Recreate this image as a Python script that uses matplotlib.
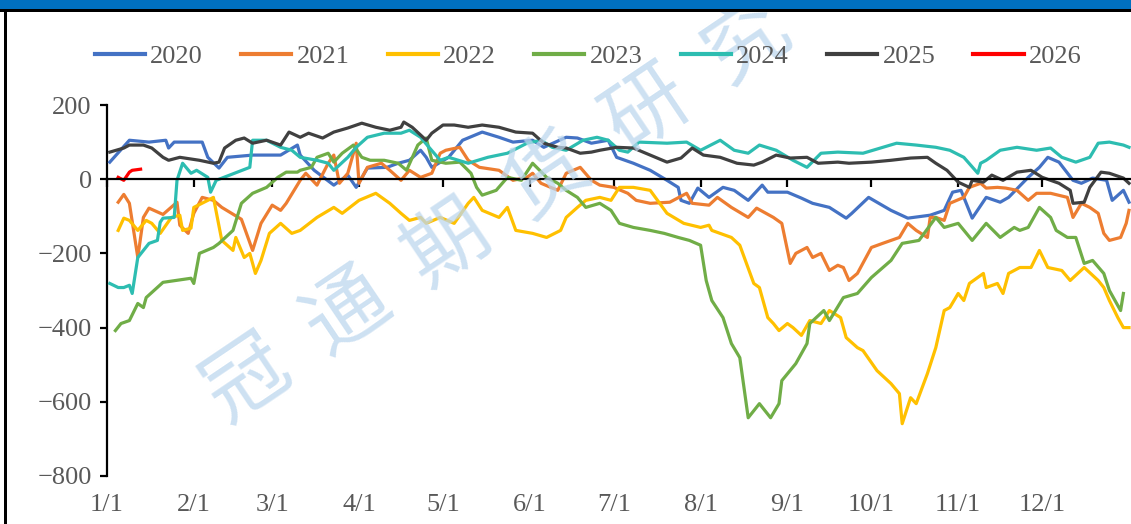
import matplotlib
matplotlib.use("Agg")
import matplotlib.pyplot as plt
from matplotlib.patches import Rectangle
from matplotlib.lines import Line2D
import matplotlib.transforms as mtransforms

# day-of-year positions and values
days_2020 = [1, 8, 15, 21, 22, 24, 34, 36, 40, 43, 52, 62, 68, 69, 74, 81, 86, 89, 93, 100,
             104, 108, 112, 114, 116, 122, 127, 134, 140, 145, 152, 156, 164, 168, 173, 179, 182, 188, 194, 200,
             204, 205, 208, 211, 215, 220, 224, 229, 234, 236, 243, 248, 252, 258, 264, 266, 272, 280, 286, 294,
             299, 302, 305, 309, 314, 319, 322, 329, 333, 336, 340, 345, 348, 352, 357, 359, 363, 365]
vals_2020 = [46, 105, 100, 105, 84, 100, 100, 59, 30, 59, 65, 65, 92, 65, 24, -16, 11, -22, 30, 32,
             43, 51, 78, 59, 32, 59, 105, 127, 113, 100, 105, 86, 113, 111, 97, 105, 59, 43, 24, -3,
             -22, -57, -65, -24, -49, -22, -30, -57, -16, -35, -35, -51, -65, -76, -105, -92, -49, -84, -105, -97,
             -84, -35, -30, -105, -49, -62, -49, 5, 32, 59, 46, -3, -11, 3, -3, -57, -30, -62]

days_2021 = [4, 6, 8, 11, 13, 15, 20, 25, 26, 29, 31, 34, 38, 41, 48, 52, 55, 59, 62, 64,
             69, 71, 75, 79, 81, 83, 86, 89, 90, 93, 98, 101, 105, 108, 112, 116, 119, 121, 126, 129,
             133, 140, 145, 150, 152, 155, 161, 164, 169, 173, 176, 181, 186, 189, 194, 201, 207, 209, 215, 218,
             223, 229, 232, 238, 241, 244, 246, 250, 252, 255, 258, 261, 263, 265, 268, 273, 277, 283, 286, 289,
             293, 294, 296, 299, 301, 306, 308, 312, 314, 318, 321, 325, 329, 332, 337, 343, 345, 348, 351, 354,
             356, 358, 362, 364, 365]
vals_2021 = [-62, -41, -65, -211, -103, -78, -95, -62, -124, -146, -92, -49, -57, -76, -108, -192, -119, -70, -84, -65,
             -3, 16, -16, 43, 65, -11, 16, 97, -11, 32, 43, 24, -3, 24, 5, 16, 70, 78, 86, 51,
             32, 24, -3, 5, 16, -11, -30, 16, 32, -3, -16, -22, -38, -57, -65, -62, -38, -65, -70, -49,
             -76, -103, -78, -103, -119, -227, -200, -184, -211, -200, -246, -232, -238, -273, -254, -184, -173, -157, -119, -138,
             -157, -103, -103, -111, -65, -49, -22, -11, -24, -22, -24, -30, -57, -38, -38, -49, -103, -65, -76, -92,
             -146, -165, -157, -119, -84]

days_2022 = [4, 6, 8, 11, 14, 16, 19, 23, 26, 27, 30, 31, 36, 38, 41, 45, 46, 49, 51, 53,
             55, 58, 62, 66, 69, 75, 81, 84, 90, 96, 101, 105, 108, 112, 114, 119, 124, 129, 131, 134,
             140, 143, 146, 152, 157, 162, 164, 168, 171, 176, 180, 183, 188, 194, 200, 206, 212, 215, 216, 223,
             226, 231, 233, 236, 238, 240, 243, 245, 248, 251, 255, 258, 262, 264, 268, 270, 275, 280, 283, 284,
             287, 289, 293, 296, 299, 301, 304, 306, 308, 313, 314, 318, 320, 322, 326, 330, 333, 336, 341, 344,
             349, 354, 356, 358, 361, 363, 365]
vals_2022 = [-138, -105, -111, -138, -111, -119, -146, -103, -97, -138, -132, -76, -57, -49, -165, -192, -157, -211, -200, -254,
             -219, -146, -119, -146, -138, -103, -76, -92, -57, -38, -65, -92, -111, -103, -119, -103, -119, -65, -49, -84,
             -103, -76, -138, -146, -157, -138, -103, -76, -57, -49, -57, -22, -22, -30, -92, -119, -130, -124, -138, -157,
             -178, -281, -292, -373, -389, -408, -389, -400, -421, -381, -389, -354, -373, -427, -454, -462, -516, -551, -578, -659,
             -589, -605, -524, -454, -354, -346, -308, -327, -281, -254, -292, -281, -308, -254, -238, -238, -192, -238, -246, -273,
             -238, -273, -292, -327, -373, -400, -400]

days_2023 = [3, 5, 8, 11, 13, 14, 20, 30, 31, 33, 38, 40, 45, 48, 52, 57, 61, 64, 68, 69,
             73, 75, 79, 81, 84, 88, 91, 94, 99, 104, 107, 111, 114, 116, 121, 126, 130, 132, 134, 139,
             143, 148, 152, 157, 161, 164, 168, 171, 176, 180, 183, 188, 194, 199, 204, 208, 212, 214, 216, 220,
             223, 226, 229, 233, 237, 240, 241, 246, 250, 251, 256, 258, 263, 268, 273, 280, 284, 290, 296, 299,
             304, 309, 314, 319, 324, 326, 329, 333, 337, 339, 343, 346, 349, 352, 356, 358, 362, 363]
vals_2023 = [-408, -389, -381, -335, -346, -319, -278, -267, -281, -200, -184, -173, -138, -65, -38, -22, 5, 19, 19, 24,
             32, 59, 70, 46, 70, 92, 59, 51, 51, 43, 24, 92, 111, 51, 43, 46, 16, -22, -43, -30,
             5, -3, 43, 5, -11, -30, -49, -76, -65, -84, -119, -130, -138, -146, -157, -165, -178, -273, -327, -373,
             -443, -481, -643, -605, -643, -605, -543, -497, -443, -389, -354, -381, -319, -308, -265, -219, -173, -165, -103, -130,
             -119, -165, -119, -157, -130, -138, -130, -76, -103, -138, -157, -157, -227, -219, -254, -300, -354, -308]

days_2024 = [1, 4, 6, 8, 9, 11, 13, 15, 18, 19, 20, 24, 25, 27, 30, 32, 36, 37, 39, 51,
             52, 57, 62, 66, 69, 75, 79, 81, 86, 89, 93, 99, 105, 108, 112, 115, 119, 122, 129, 136,
             143, 150, 155, 159, 164, 170, 175, 179, 183, 186, 190, 200, 207, 212, 219, 224, 229, 233, 239, 245,
             250, 255, 261, 270, 282, 289, 296, 301, 306, 311, 312, 314, 319, 325, 332, 337, 341, 346, 351, 354,
             358, 363, 365]
vals_2024 = [-281, -292, -292, -286, -308, -211, -192, -173, -165, -116, -105, -103, -3, 43, 16, 24, 5, -35, -3, 32,
             105, 105, 86, 78, 59, 51, 43, 24, 59, 86, 113, 124, 124, 132, 113, 86, 51, 59, 43, 59,
             70, 97, 105, 86, 78, 105, 113, 105, 78, 73, 100, 97, 100, 78, 105, 78, 70, 92, 78, 51,
             32, 70, 73, 70, 97, 92, 86, 78, 59, 16, 43, 51, 78, 86, 78, 84, 59, 46, 59, 97,
             100, 92, 86]

days_2025 = [1, 6, 8, 13, 16, 20, 22, 26, 33, 38, 40, 42, 46, 49, 52, 57, 62, 65, 69, 72,
             77, 81, 86, 91, 96, 101, 105, 106, 109, 114, 116, 120, 124, 129, 134, 140, 146, 152, 156, 161,
             164, 169, 173, 176, 182, 188, 194, 200, 205, 209, 213, 219, 225, 231, 234, 239, 244, 250, 254, 261,
             265, 273, 280, 287, 293, 296, 300, 304, 308, 309, 313, 316, 320, 325, 330, 334, 340, 344, 345, 349,
             351, 355, 358, 363, 365]
vals_2025 = [73, 84, 92, 92, 84, 59, 51, 59, 51, 43, 46, 84, 105, 111, 97, 105, 92, 127, 113, 124,
             111, 127, 138, 151, 140, 132, 140, 154, 140, 105, 124, 146, 146, 140, 146, 140, 127, 124, 97, 86,
             84, 70, 73, 78, 86, 84, 65, 46, 57, 84, 65, 59, 43, 38, 46, 65, 57, 59, 43, 46,
             43, 46, 51, 57, 59, 43, 24, -8, -22, -3, -8, 11, -3, 19, 24, 5, -11, -30, -65, -62,
             -22, 19, 16, 3, -11]

days_2026 = [4, 6, 8, 9, 12]
vals_2026 = [5, -3, 19, 24, 27]

series = [
    ("2020", days_2020, vals_2020, "#4472C4"),
    ("2021", days_2021, vals_2021, "#ED7D31"),
    ("2022", days_2022, vals_2022, "#FFC000"),
    ("2023", days_2023, vals_2023, "#70AD47"),
    ("2024", days_2024, vals_2024, "#2DBDB1"),
    ("2025", days_2025, vals_2025, "#404040"),
    ("2026", days_2026, vals_2026, "#FF0000"),
]

month_starts = [0, 31, 59, 90, 120, 151, 181, 212, 243, 273, 304, 334]
month_labels = ["1/1", "2/1", "3/1", "4/1", "5/1", "6/1", "7/1", "8/1", "9/1", "10/1", "11/1", "12/1"]
y_ticks = [200, 0, -200, -400, -600, -800]

plt.rcParams["font.family"] = ["Liberation Serif", "DejaVu Serif"]
plt.rcParams["axes.unicode_minus"] = True

W, H = 1131, 524
fig = plt.figure(figsize=(W / 100, H / 100), dpi=100)

# plot area in pixels: x 107 -> right edge, y 105 (200) -> 476 (-800)
ax = fig.add_axes([107 / W, (H - 476) / H, (W - 107) / W, (476 - 105) / H])
ax.patch.set_alpha(0)

for name, d, v, c in series:
    assert len(d) == len(v), name
    ax.plot(d, v, color=c, lw=2.3, label=name, solid_joinstyle="round", zorder=3)

ax.set_xlim(0, (W - 107) / 2.8)
ax.set_ylim(-800, 200)

for side in ["top", "right"]:
    ax.spines[side].set_visible(False)
ax.spines["left"].set_linewidth(1.6)
ax.spines["left"].set_bounds(-800, 200)
ax.spines["bottom"].set_position(("data", 0))
ax.spines["bottom"].set_linewidth(1.6)
ax.spines["bottom"].set_zorder(4)

ax.set_yticks(y_ticks)
ax.tick_params(axis="y", direction="out", length=5, width=1.6, colors="black",
               labelcolor="#595959", labelsize=19, pad=6)
ax.set_xticks(month_starts)
ax.set_xticklabels([])
ax.tick_params(axis="x", direction="out", length=6, width=1.6, colors="black")

trans = mtransforms.blended_transform_factory(ax.transData, ax.transAxes)
for m, lab in zip(month_starts, month_labels):
    ax.text(m, -0.078, lab, transform=trans, ha="center", va="center",
            fontsize=19, color="#595959")

handles = [Line2D([0], [0], color=c, lw=3) for _, _, _, c in series]
fig.legend(handles, [s[0] for s in series], loc="center", bbox_to_anchor=(0.52, 0.893),
           ncol=7, frameon=False, fontsize=19, handlelength=1.9, handletextpad=0.2,
           columnspacing=1.45, labelcolor="#595959")

# watermark
fig.text(0.44, 0.595, "冠  通  期  货  研  究", rotation=34, fontsize=60, color="#BDD7EE",
         alpha=0.75, ha="center", va="center", family=["Noto Sans CJK SC"], zorder=5)

# frame: blue band on top, black rules
fig.patches.append(Rectangle((0, 1 - 9 / H), 1, 9 / H, transform=fig.transFigure,
                             facecolor="#0070C0", edgecolor="none", zorder=10))
fig.patches.append(Rectangle((0, 1 - 12 / H), 1, 3 / H, transform=fig.transFigure,
                             facecolor="black", edgecolor="none", zorder=10))
fig.patches.append(Rectangle((4 / W, 0), 3 / W, 1 - 9 / H, transform=fig.transFigure,
                             facecolor="black", edgecolor="none", zorder=10))

fig.savefig("out.png", dpi=100)
